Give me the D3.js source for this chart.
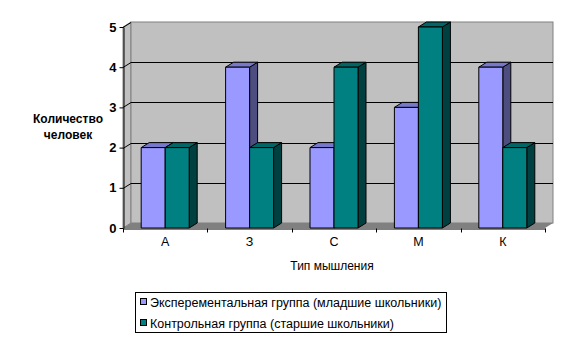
<!DOCTYPE html>
<html>
<head>
<meta charset="utf-8">
<script src="https://cdn.jsdelivr.net/npm/d3@7"></script>
<style>
  html, body { margin: 0; padding: 0; background: #fff; }
  svg { display: block; font-family: "Liberation Sans", Arial, sans-serif; }
</style>
</head>
<body>
<svg id="chart" width="585" height="344"></svg>
<script>
// Thinking-type counts for two groups of pupils
const categories = ["А", "З", "С", "М", "К"];
const seriesNames = [
  "Эксперементальная группа (младшие школьники)",
  "Контрольная группа (старшие школьники)"
];
const experimental = [2, 4, 2, 3, 4];
const control = [2, 2, 4, 5, 2];
const yTicks = [0, 1, 2, 3, 4, 5];
const yTitle = ["Количество", "человек"];
const xTitle = "Тип мышления";

const seriesValues = [experimental, control];
const palette = [
  { front: "#9999ff", top: "#7777cc", side: "#4d4d80" },
  { front: "#008080", top: "#006666", side: "#004040" }
];

const svg = d3.select("#chart");
const left = 123, right = 545, bottom = 228, topY = 27;
const dx = 8, dy = -5; // depth of the 3D box

const x = d3.scaleBand().domain(categories).range([left, right]).paddingInner(0).paddingOuter(0);
const y = d3.scaleLinear().domain([0, 5]).range([bottom, topY]);
const barW = 24;

// side wall
svg.append("path")
  .attr("d", `M${left},${bottom}L${left},${topY}L${left+dx},${topY+dy}L${left+dx},${bottom+dy}Z`)
  .attr("fill", "#c0c0c0").attr("stroke", "#808080").attr("stroke-width", 1);
// back wall
svg.append("rect")
  .attr("x", left + dx).attr("y", topY + dy)
  .attr("width", right + dx - (left + dx)).attr("height", bottom - topY)
  .attr("fill", "#c0c0c0").attr("stroke", "#808080").attr("stroke-width", 1);
// floor
svg.append("path")
  .attr("d", `M${left},${bottom}L${left+dx},${bottom+dy}L${right+dx},${bottom+dy}L${right},${bottom}Z`)
  .attr("fill", "#808080");

// gridlines on side and back walls
yTicks.filter(t => t > 0 && t < 5).forEach(t => {
  const yy = Math.round(y(t)) + 0.5;
  svg.append("path")
    .attr("d", `M${left},${yy}L${left+dx},${yy+dy}L${right+dx},${yy+dy}`)
    .attr("fill", "none").attr("stroke", "#000").attr("stroke-width", 1);
});
{
  const yy = Math.round(y(5)) + 0.5;
  svg.append("path")
    .attr("d", `M${left},${yy}L${left+dx},${yy+dy}`)
    .attr("fill", "none").attr("stroke", "#000").attr("stroke-width", 1);
}

// bars as 3D boxes
const bars = svg.append("g");
categories.forEach((c, i) => {
  const gx = x(c) + (x.bandwidth() - 2 * barW) / 2;
  seriesValues.forEach((vals, s) => {
    const v = vals[i];
    const x0 = gx + s * barW, x1 = x0 + barW;
    const yv = y(v), y0 = y(0);
    const col = palette[s];
    const g = bars.append("g").attr("stroke", "#000").attr("stroke-width", 1).attr("stroke-linejoin", "round");
    g.append("path")
      .attr("d", `M${x1},${yv}L${x1+dx},${yv+dy}L${x1+dx},${y0+dy}L${x1},${y0}Z`)
      .attr("fill", col.side);
    g.append("path")
      .attr("d", `M${x0},${yv}L${x0+dx},${yv+dy}L${x1+dx},${yv+dy}L${x1},${yv}Z`)
      .attr("fill", col.top);
    g.append("rect")
      .attr("x", x0).attr("y", yv).attr("width", barW).attr("height", y0 - yv)
      .attr("fill", col.front);
  });
});

// y axis
const yAxis = svg.append("g")
  .attr("transform", `translate(${left + 0.5},0)`)
  .call(d3.axisLeft(y).tickValues(yTicks).tickFormat(d3.format("d"))
    .tickSize(4).tickPadding(3).tickSizeOuter(0));
yAxis.select(".domain").attr("stroke", "#000");
yAxis.selectAll(".tick line").attr("stroke", "#000");
yAxis.selectAll("text").attr("font-size", 13).attr("font-weight", "bold")
  .attr("fill", "#000").attr("font-family", "Liberation Sans, Arial, sans-serif");

// x axis
const xAxis = svg.append("g")
  .attr("transform", `translate(0,${bottom + 0.5})`)
  .call(d3.axisBottom(x).tickSize(0).tickPadding(9));
xAxis.select(".domain").attr("stroke", "#000");
xAxis.selectAll("text").attr("font-size", 12.5).attr("fill", "#000")
  .attr("font-family", "Liberation Sans, Arial, sans-serif");
// tick marks at category boundaries
const bounds = categories.map(c => x(c)).concat([right]);
xAxis.selectAll(".bound").data(bounds).enter().append("line")
  .attr("x1", d => Math.round(d) + 0.5).attr("x2", d => Math.round(d) + 0.5)
  .attr("y1", 0).attr("y2", 4).attr("stroke", "#000");

// axis titles
svg.append("text")
  .attr("x", 68).attr("text-anchor", "middle")
  .attr("font-size", 12).attr("font-weight", "bold").attr("fill", "#000")
  .selectAll("tspan").data(yTitle).enter().append("tspan")
  .attr("x", 68).attr("y", (d, i) => 123 + i * 16).text(d => d);

svg.append("text")
  .attr("x", 332).attr("y", 270).attr("text-anchor", "middle")
  .attr("font-size", 12).attr("fill", "#000").text(xTitle);

// legend
const lg = svg.append("g");
lg.append("rect").attr("x", 135.5).attr("y", 292.5).attr("width", 311).attr("height", 40)
  .attr("fill", "#fff").attr("stroke", "#000");
seriesNames.forEach((name, i) => {
  const cy = 302 + i * 21;
  lg.append("rect").attr("x", 140.5).attr("y", cy - 3.5).attr("width", 6).attr("height", 6)
    .attr("fill", palette[i].front).attr("stroke", "#000");
  lg.append("text").attr("x", 150).attr("y", cy + 4.5)
    .attr("font-size", 12.5).attr("fill", "#000").text(name);
});
</script>
</body>
</html>
